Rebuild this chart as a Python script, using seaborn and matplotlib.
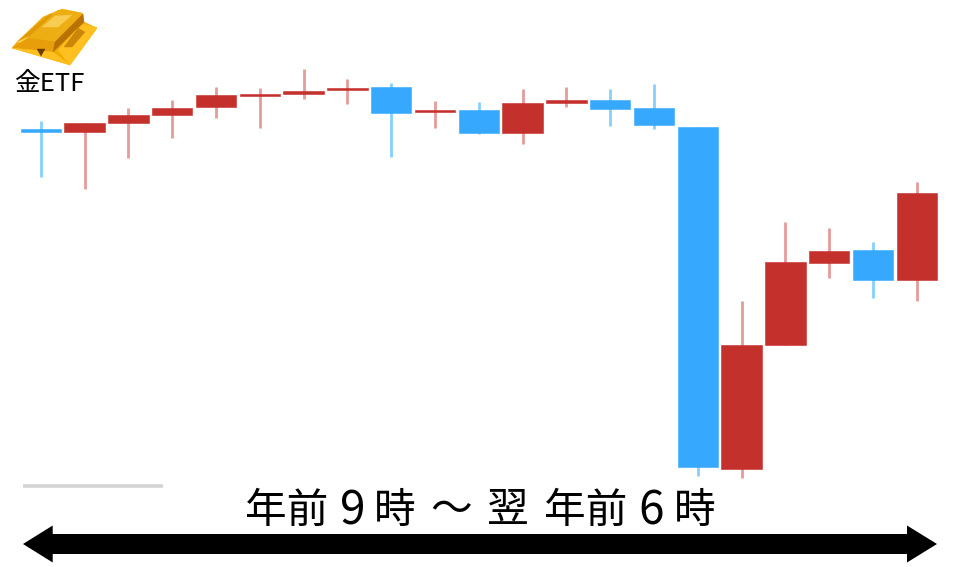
import matplotlib
matplotlib.use('Agg')
import matplotlib.pyplot as plt
import pandas as pd
import seaborn as sns
from matplotlib.patches import Polygon

# candle values (price units, up is higher)
slots = list(range(21))
opens = [438.5, 435, 444.3, 452.3, 460.3, 471, 473.3, 476.7, 479.7, 454.7, 457, 434, 464.3, 467.3, 458.7, 440.3, 98, 222.3, 304, 317.3, 286.7]
closes = [435, 444.3, 452.3, 459.3, 472, 473, 476.3, 479.3, 454, 457.3, 434.3, 464.3, 466.7, 458, 442, 99.7, 222, 304.7, 316, 286.7, 374]
highs = [446, 444.5, 459, 467, 480, 479, 498.5, 487.7, 484.3, 466, 464.7, 477.7, 480.3, 477.7, 482.7, 440.3, 266, 345.3, 339.3, 325, 385.3]
lows = [390, 378, 409, 429.5, 449, 439.3, 468.3, 462.7, 409.7, 438.7, 433, 423, 460.3, 441.3, 438, 91.3, 88.7, 222, 289.3, 268.7, 266]

span_parts = ['年前', '9', '時', '〜', '翌', '年前', '6', '時']
span_centres = [287, 352.5, 395, 451, 508, 586, 651.5, 695]

gold_icon = [
    # colour, outline in pixels
    ('#F2AC00', [(12, 48), (17, 42), (43, 17), (62, 9), (82, 13), (84, 22), (97, 28), (70, 65)]),
    ('#E09A08', [(17, 42), (50, 14), (62, 16), (30, 38)]),
    ('#FFD24A', [(17, 42), (28, 37), (36, 39), (24, 44)]),
    ('#EDAE14', [(28, 38), (58, 10), (83, 14), (55, 42)]),
    ('#F8CC50', [(42, 27), (55, 16), (72, 15), (58, 27)]),
    ('#E89E0A', [(28, 38), (55, 42), (53, 52), (12, 48)]),
    ('#FFC020', [(12, 48), (53, 52), (70, 65)]),
    ('#B87204', [(55, 42), (83, 14), (84, 22), (53, 52)]),
    ('#FFC020', [(58, 50), (76, 30), (84, 24), (97, 28), (70, 65)]),
    ('#CC8608', [(64, 47), (78, 28), (85, 32), (72, 47)]),
    ('#6B3E00', [(37, 49), (45, 49), (41, 56)]),
]

arrow_outline = [(23, 544), (52.7, 525.5), (52.7, 534), (907, 534), (907, 525.5), (937, 544),
                 (907, 562.5), (907, 554), (52.7, 554), (52.7, 562.5)]

df = pd.DataFrame({'slot': slots, 'open': opens, 'close': closes, 'high': highs, 'low': lows})
df['bottom'] = df[['open', 'close']].min(axis=1)
df['body'] = (df['open'] - df['close']).abs()
df['up'] = df['close'] > df['open']

red = '#C4302B'
blue = '#36A9FF'
red_wick = '#E59C9A'
blue_wick = '#85D0FF'

sns.set_style('white')
plt.rcParams['font.family'] = ['Noto Sans CJK JP', 'DejaVu Sans']

fig = plt.figure(figsize=(9.6, 5.67), dpi=100)
ax = fig.add_axes([0, 0, 1, 1])

# wicks first, bodies on top
for up, wick in [(True, red_wick), (False, blue_wick)]:
    sub = df[df['up'] == up]
    ax.vlines(sub['slot'], sub['low'], sub['high'], color=wick, linewidth=2.0, zorder=1)

for up, col in [(True, red), (False, blue)]:
    sub = df[df['up'] == up]
    sns.barplot(data=sub, x='slot', y='body', bottom=sub['bottom'].values, ax=ax,
                native_scale=True, width=0.925, color=col, saturation=1,
                errorbar=None, edgecolor=col, linewidth=0.4, zorder=2)

ax.set_xlim(-40.8 / 43.8, (960 - 40.8) / 43.8)
ax.set_ylim(0, 567)
ax.axis('off')

# pixel overlay for the icon, label, grey rule and arrow
top = fig.add_axes([0, 0, 1, 1], facecolor='none')
top.set_xlim(0, 960)
top.set_ylim(567, 0)
top.axis('off')

for col, pts in gold_icon:
    top.add_patch(Polygon(pts, closed=True, facecolor=col, edgecolor=col, linewidth=0.3))

top.text(49, 84, '金ETF', fontsize=18.5, ha='center', va='center', color='black')
top.plot([23, 163], [486, 486], color='#D4D4D4', linewidth=2.6, solid_capstyle='butt')

for part, cx in zip(span_parts, span_centres):
    # the digits sit a little larger than the kanji in the reference
    size = 33 if part.isdigit() else 30
    top.text(cx, 511, part, fontsize=size, ha='center', va='center', color='black')

top.add_patch(Polygon(arrow_outline, closed=True, facecolor='black', edgecolor='none'))

fig.savefig('out.png', dpi=100)
